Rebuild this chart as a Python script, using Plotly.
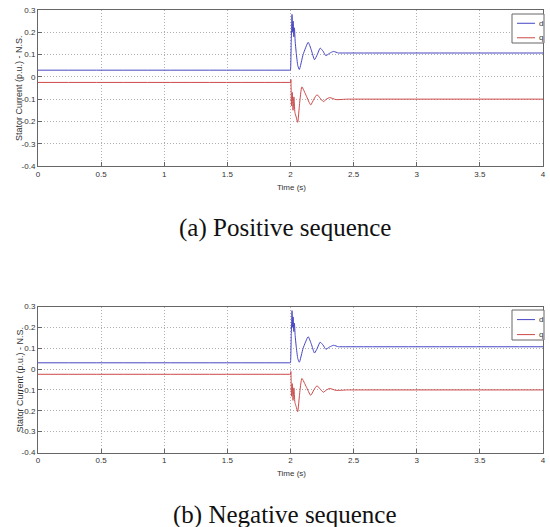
import plotly.graph_objects as go

# ---- data ----
time_d = [0.0, 1.999, 2.0, 2.006, 2.012, 2.017, 2.021, 2.026, 2.031, 2.037, 2.045, 2.058, 2.07, 2.1, 2.14, 2.165, 2.19, 2.212, 2.235, 2.258, 2.28, 2.31, 2.34, 2.38, 2.4, 4.0]
stator_d = [0.03, 0.03, 0.03, 0.16, 0.28, 0.2, 0.25, 0.18, 0.22, 0.16, 0.11, 0.05, 0.033, 0.1, 0.155, 0.12, 0.077, 0.1, 0.129, 0.115, 0.095, 0.106, 0.114, 0.107, 0.107, 0.107]

time_q = [0.0, 1.999, 2.0, 2.003, 2.008, 2.014, 2.02, 2.027, 2.035, 2.045, 2.057, 2.072, 2.09, 2.125, 2.16, 2.185, 2.21, 2.235, 2.26, 2.285, 2.31, 2.36, 2.45, 2.47, 4.0]
stator_q = [-0.025, -0.025, -0.025, -0.012, -0.13, -0.07, -0.15, -0.09, -0.16, -0.18, -0.204, -0.12, -0.045, -0.085, -0.126, -0.1, -0.08, -0.096, -0.111, -0.1, -0.093, -0.102, -0.1, -0.1, -0.1]

x_ticks = [0, 0.5, 1, 1.5, 2, 2.5, 3, 3.5, 4]
x_tick_labels = ["0", "0.5", "1", "1.5", "2", "2.5", "3", "3.5", "4"]
y_ticks = [-0.4, -0.3, -0.2, -0.1, 0, 0.1, 0.2, 0.3]
y_tick_labels = ["-0.4", "-0.3", "-0.2", "-0.1", "0", "0.1", "0.2", "0.3"]
captions = ["(a) Positive sequence", "(b) Negative sequence"]
series_names = ["d", "q"]

W, H = 550, 527
BLUE = "#4646c4"
RED = "#cc4a4a"
colors = [BLUE, RED]
SANS = "Liberation Sans Narrow, Liberation Sans, Arial"
TICKFONT = dict(family=SANS, size=8, color="#333")

fig = go.Figure()

# panel geometry (pixels)
panels = [
    dict(top=10, bottom=166, suffix="", cap_y=228, leg=(512, 544, 14, 43)),
    dict(top=306.5, bottom=452.5, suffix="2", cap_y=514.5, leg=(512, 544, 310, 340)),
]
x0px, x1px = 38, 543

for p in panels:
    xa = "x" + p["suffix"]
    ya = "y" + p["suffix"]
    fig.add_trace(go.Scatter(x=time_d, y=stator_d, mode="lines", name=series_names[0],
                             line=dict(color=BLUE, width=1, shape="spline", smoothing=0.5),
                             xaxis=xa, yaxis=ya, showlegend=False))
    fig.add_trace(go.Scatter(x=time_q, y=stator_q, mode="lines", name=series_names[1],
                             line=dict(color=RED, width=1, shape="spline", smoothing=0.5),
                             xaxis=xa, yaxis=ya, showlegend=False))

axis_common = dict(showline=True, linecolor="#666", linewidth=1, mirror=True,
                   ticks="inside", ticklen=4, tickcolor="#666",
                   showgrid=True, gridcolor="#b0b0b0", griddash="1px,2px", gridwidth=1,
                   zeroline=False, tickfont=TICKFONT, automargin=False)

layout = dict(width=W, height=H, margin=dict(l=0, r=0, t=0, b=0, autoexpand=False),
              paper_bgcolor="white", plot_bgcolor="white", showlegend=False)

annotations = []
shapes = []


def px(x):
    return x / W


def py(y):
    return 1 - y / H


for idx, p in enumerate(panels):
    s = p["suffix"]
    ydom = [py(p["bottom"]), py(p["top"])]
    layout["xaxis" + s] = dict(axis_common, domain=[px(x0px), px(x1px)], range=[0, 4],
                               tickvals=x_ticks, ticktext=x_tick_labels, anchor="y" + s)
    layout["yaxis" + s] = dict(axis_common, domain=ydom, range=[-0.4, 0.3],
                               tickvals=y_ticks, ticktext=y_tick_labels, anchor="x" + s)
    # axis titles
    annotations.append(dict(text="Time (s)", xref="paper", yref="paper",
                            x=px(291), y=py(p["bottom"] + 21), xanchor="center", yanchor="middle",
                            showarrow=False, font=TICKFONT))
    annotations.append(dict(text="Stator Current (p.u.) - N.S.", xref="paper", yref="paper",
                            x=px(19), y=py((p["top"] + p["bottom"]) / 2), textangle=-90,
                            xanchor="center", yanchor="middle", showarrow=False,
                            font=dict(family=SANS, size=9, color="#333")))
    # legend box (MATLAB style)
    lx0, lx1, ly0, ly1 = p["leg"]
    shapes.append(dict(type="rect", xref="paper", yref="paper",
                       x0=px(lx0), x1=px(lx1), y0=py(ly1), y1=py(ly0),
                       line=dict(color="#666", width=1), fillcolor="white", layer="above"))
    for k, name in enumerate(series_names):
        yy = ly0 + (ly1 - ly0) * (0.32 + 0.5 * k)
        shapes.append(dict(type="line", xref="paper", yref="paper",
                           x0=px(lx0 + 5), x1=px(lx0 + 23), y0=py(yy), y1=py(yy),
                           line=dict(color=colors[k], width=1), layer="above"))
        annotations.append(dict(text=name, xref="paper", yref="paper",
                                x=px(lx0 + 25), y=py(yy), xanchor="left", yanchor="middle",
                                showarrow=False, font=TICKFONT))
    annotations.append(dict(text=captions[idx], xref="paper", yref="paper",
                            x=px(285), y=py(p["cap_y"]), xanchor="center", yanchor="middle",
                            showarrow=False,
                            font=dict(family="Liberation Serif, Times New Roman", size=25, color="#111")))

layout["annotations"] = annotations
layout["shapes"] = shapes

fig.update_layout(**layout)
fig.write_html("out.html",
               config={"displayModeBar": False},
               post_script="document.body.style.margin='0';document.body.style.padding='0';"
                           "document.body.style.overflow='hidden';")
